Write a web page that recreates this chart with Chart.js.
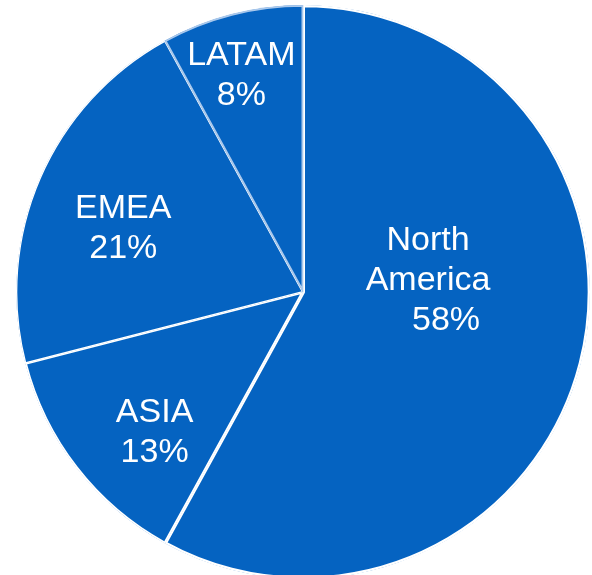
<!DOCTYPE html>
<html>
<head>
<meta charset="utf-8">
<script src="https://cdn.jsdelivr.net/npm/chart.js@4.4.1/dist/chart.umd.min.js"></script>
<style>
  html, body { margin: 0; padding: 0; background: #ffffff; overflow: hidden; }
  #regionPie { display: block; }
</style>
</head>
<body>
<canvas id="regionPie" width="592" height="584"></canvas>
<script>
/* --------------- Regions And Shares --------------------- */
const regions = ["North America", "ASIA", "EMEA", "LATAM"];
const labelLines = [["North", "America"], ["ASIA"], ["EMEA"], ["LATAM"]];
const shares = [58, 13, 21, 8];

/* --------------- Slice Styles --------------------- */
const sliceFill = "#0563C1";
const sliceBorders = ["#ffffff", "#ffffff", "#ffffff", "#A9C8EC"];
const sliceBorderWidths = [2, 1.5, 1, 1.5];
// label nudges from each slice's centre point
const labelNudge = [[-14, -47], [-35, 53], [-48, -6], [-26, -77]];
const percentNudge = [18, 0, 0, 0];

/* --------------- Label Plugin --------------------- */
const sliceLabels = {
  id: "sliceLabels",
  afterDatasetsDraw(chart) {
    const ctx = chart.ctx;
    const meta = chart.getDatasetMeta(0);
    ctx.save();
    ctx.fillStyle = "#ffffff";
    ctx.font = "34px 'Liberation Sans', Arial, sans-serif";
    ctx.textAlign = "center";
    ctx.textBaseline = "middle";
    meta.data.forEach((arc, i) => {
      const pos = arc.tooltipPosition();
      const cx = pos.x + labelNudge[i][0];
      const cy = pos.y + labelNudge[i][1];
      const lines = labelLines[i].concat([shares[i] + "%"]);
      const lineHeight = 40;
      const top = cy - (lines.length - 1) * lineHeight / 2;
      lines.forEach((line, j) => {
        const dx = j === lines.length - 1 ? percentNudge[i] : 0;
        ctx.fillText(line, cx + dx, top + j * lineHeight);
      });
    });
    ctx.restore();
  },
};

/* --------------- Chart --------------------- */
const regionChart = new Chart(document.getElementById("regionPie"), {
  type: "pie",
  plugins: [sliceLabels],
  data: {
    labels: regions,
    datasets: [
      {
        data: shares,
        backgroundColor: sliceFill,
        borderColor: sliceBorders,
        borderWidth: sliceBorderWidths,
        borderAlign: "inner",
        hoverOffset: 0,
        radius: 287,
      },
    ],
  },
  options: {
    responsive: false,
    animation: false,
    events: [],
    layout: { padding: { left: 14 } },
    plugins: {
      legend: { display: false },
      tooltip: { enabled: false },
    },
  },
});
</script>
</body>
</html>
